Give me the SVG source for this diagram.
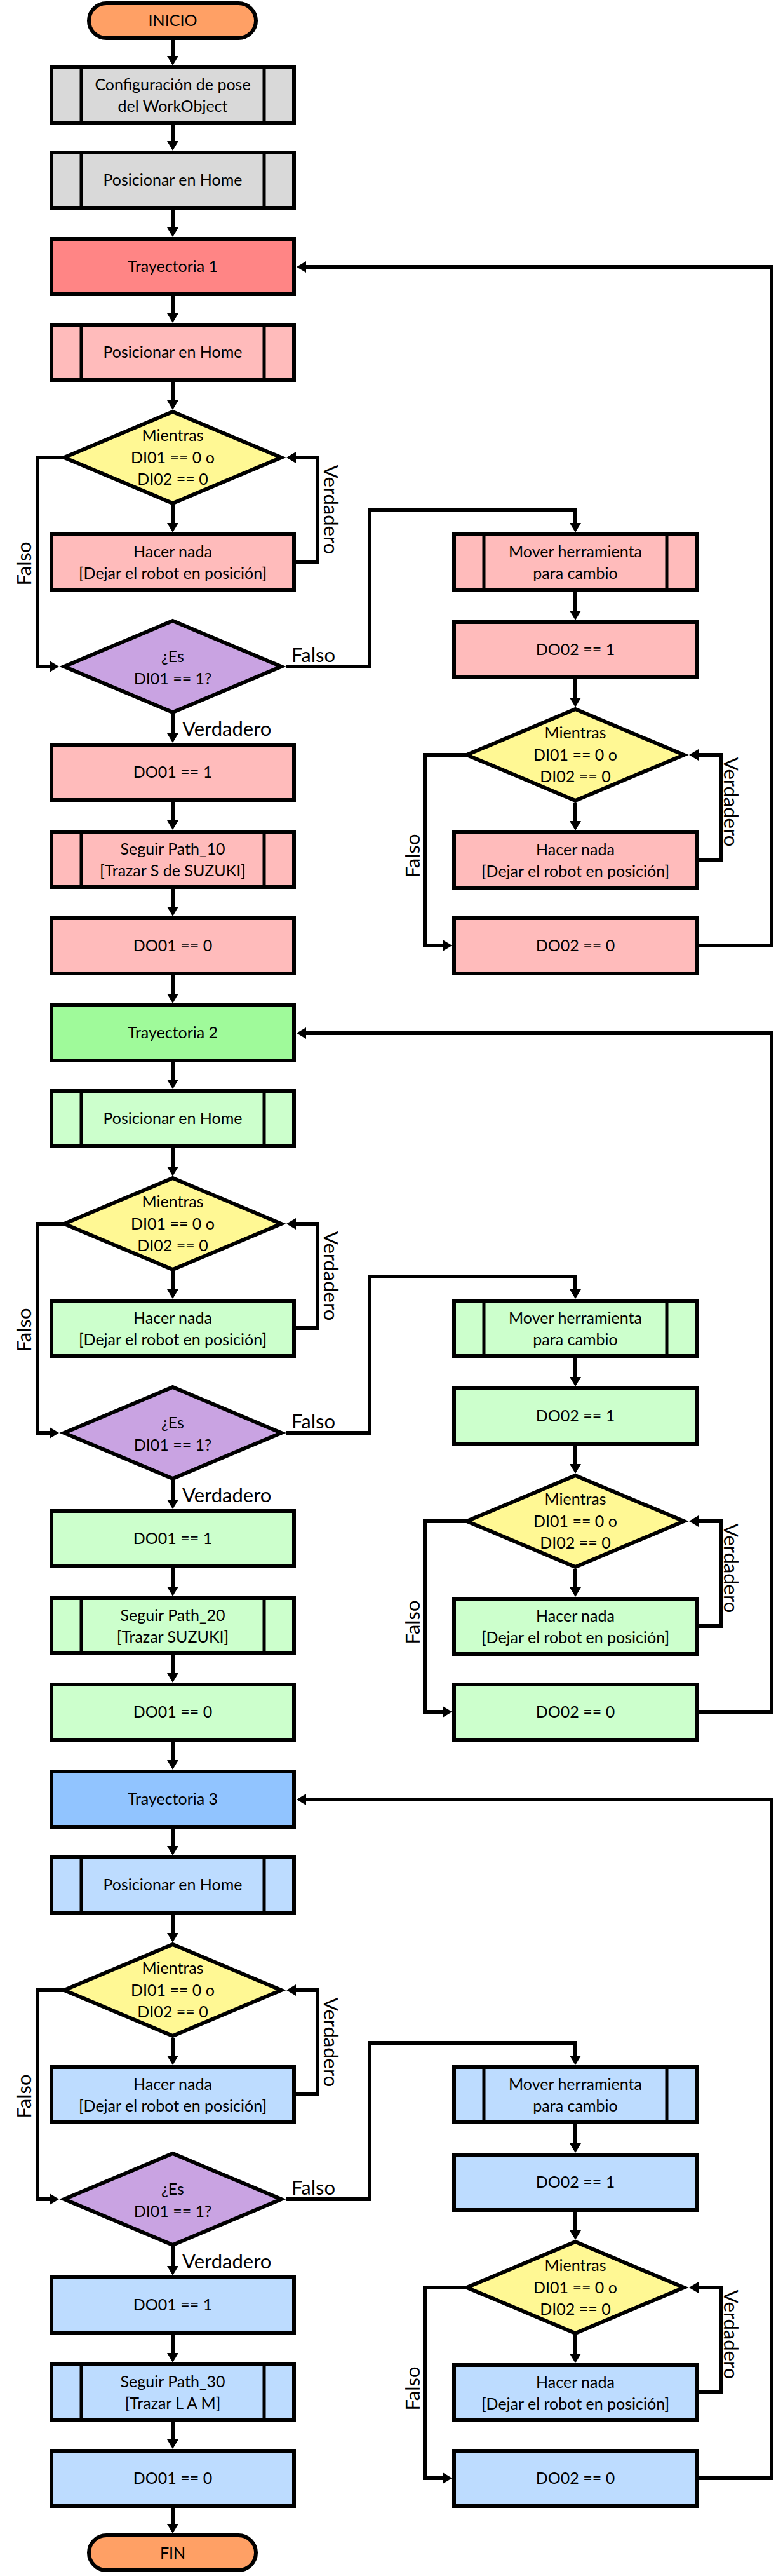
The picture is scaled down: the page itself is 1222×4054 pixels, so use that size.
<svg xmlns="http://www.w3.org/2000/svg" width="1222" height="4054" viewBox="0 0 1222 4054">
<style>
.n{stroke:#000;stroke-width:6}
.b{stroke:#000;stroke-width:5}
.t{font-family:Lato,"Noto Sans",sans-serif;font-size:25px;text-anchor:middle;fill:#000}
.l{font-family:Lato,"Noto Sans",sans-serif;font-size:31px;fill:#000}
.lm{text-anchor:middle}
.c{fill:none;stroke:#000;stroke-width:6;stroke-linejoin:miter;marker-end:url(#ah)}
.term{fill:#FFA065}
.gray{fill:#D9D9D9}
.yel{fill:#FFF894}
.pur{fill:#C9A3E2}
.tr1{fill:#FF8585}.s1{fill:#FFBBBB}
.tr2{fill:#9FFA9A}.s2{fill:#CCFFCC}
.tr3{fill:#91C4FF}.s3{fill:#BDDCFF}
</style>
<defs>
<marker id="ah" markerUnits="userSpaceOnUse" markerWidth="16" markerHeight="18" refX="0" refY="9" orient="auto" overflow="visible"><path d="M0,0 L15,9 L0,18 z" fill="#000"/></marker>
</defs>
<rect width="1222" height="4054" fill="#fff"/>

<g id="connectors">
<path class="c" d="M272,63 V88"/>
<path class="c" d="M272,196 V222"/>
<path class="c" d="M272,330 V358"/>
<path class="c" d="M272,3947 V3972"/>
<g id="conn-s1">
<path class="c" d="M272,466 V493"/>
<path class="c" d="M272,601 V630"/>
<path class="c" d="M272,795 V823"/>
<path class="c" d="M101,720 H59 V1049 H78"/>
<path class="c" d="M466,884 H500 V720 H466"/>
<path class="c" d="M272,1123 V1154"/>
<path class="c" d="M451,1049 H582 V803 H906 V823"/>
<path class="c" d="M272,1262 V1291"/>
<path class="c" d="M272,1399 V1427"/>
<path class="c" d="M272,1535 V1564"/>
<path class="c" d="M906,931 V961"/>
<path class="c" d="M906,1069 V1098"/>
<path class="c" d="M906,1263 V1292"/>
<path class="c" d="M735,1188 H669 V1488 H697"/>
<path class="c" d="M1100,1353 H1136 V1188 H1100"/>
<path class="c" d="M1100,1488 H1215 V420 H482"/>
</g>
<g id="conn-s2" transform="translate(0,1206)">
<path class="c" d="M272,466 V493"/>
<path class="c" d="M272,601 V630"/>
<path class="c" d="M272,795 V823"/>
<path class="c" d="M101,720 H59 V1049 H78"/>
<path class="c" d="M466,884 H500 V720 H466"/>
<path class="c" d="M272,1123 V1154"/>
<path class="c" d="M451,1049 H582 V803 H906 V823"/>
<path class="c" d="M272,1262 V1291"/>
<path class="c" d="M272,1399 V1427"/>
<path class="c" d="M272,1535 V1564"/>
<path class="c" d="M906,931 V961"/>
<path class="c" d="M906,1069 V1098"/>
<path class="c" d="M906,1263 V1292"/>
<path class="c" d="M735,1188 H669 V1488 H697"/>
<path class="c" d="M1100,1353 H1136 V1188 H1100"/>
<path class="c" d="M1100,1488 H1215 V420 H482"/>
</g>
<g id="conn-s3" transform="translate(0,2412)">
<path class="c" d="M272,466 V493"/>
<path class="c" d="M272,601 V630"/>
<path class="c" d="M272,795 V823"/>
<path class="c" d="M101,720 H59 V1049 H78"/>
<path class="c" d="M466,884 H500 V720 H466"/>
<path class="c" d="M272,1123 V1154"/>
<path class="c" d="M451,1049 H582 V803 H906 V823"/>
<path class="c" d="M272,1262 V1291"/>
<path class="c" d="M272,1399 V1427"/>
<path class="c" d="M906,931 V961"/>
<path class="c" d="M906,1069 V1098"/>
<path class="c" d="M906,1263 V1292"/>
<path class="c" d="M735,1188 H669 V1488 H697"/>
<path class="c" d="M1100,1353 H1136 V1188 H1100"/>
<path class="c" d="M1100,1488 H1215 V420 H482"/>
</g>
</g>

<g id="labels">
<g id="lab-s1">
<text class="l" x="287" y="1158">Verdadero</text>
<text class="l" x="459" y="1042">Falso</text>
<text class="l lm" transform="translate(49,887) rotate(-90)">Falso</text>
<text class="l lm" transform="translate(510,802) rotate(90)">Verdadero</text>
<text class="l lm" transform="translate(661,1347) rotate(-90)">Falso</text>
<text class="l lm" transform="translate(1140,1262) rotate(90)">Verdadero</text>
</g>
<g id="lab-s2" transform="translate(0,1206)">
<text class="l" x="287" y="1158">Verdadero</text>
<text class="l" x="459" y="1042">Falso</text>
<text class="l lm" transform="translate(49,887) rotate(-90)">Falso</text>
<text class="l lm" transform="translate(510,802) rotate(90)">Verdadero</text>
<text class="l lm" transform="translate(661,1347) rotate(-90)">Falso</text>
<text class="l lm" transform="translate(1140,1262) rotate(90)">Verdadero</text>
</g>
<g id="lab-s3" transform="translate(0,2412)">
<text class="l" x="287" y="1158">Verdadero</text>
<text class="l" x="459" y="1042">Falso</text>
<text class="l lm" transform="translate(49,887) rotate(-90)">Falso</text>
<text class="l lm" transform="translate(510,802) rotate(90)">Verdadero</text>
<text class="l lm" transform="translate(661,1347) rotate(-90)">Falso</text>
<text class="l lm" transform="translate(1140,1262) rotate(90)">Verdadero</text>
</g>
</g>

<g id="inicio"><rect class="n term" x="140" y="5" width="263" height="55" rx="27.5"/><text class="t" x="272" y="41">INICIO</text></g>
<g id="config"><rect class="n gray" x="81" y="106" width="382" height="87"/><line class="b" x1="128" y1="106" x2="128" y2="193"/><line class="b" x1="416" y1="106" x2="416" y2="193"/><text class="t" x="272" y="142">Configuración de pose</text><text class="t" x="272" y="176">del WorkObject</text></g>
<g id="home0"><rect class="n gray" x="81" y="240" width="382" height="87"/><line class="b" x1="128" y1="240" x2="128" y2="327"/><line class="b" x1="416" y1="240" x2="416" y2="327"/><text class="t" x="272" y="292">Posicionar en Home</text></g>

<g id="seccion1">
<g id="tray1"><rect class="n tr1" x="81" y="376" width="382" height="87"/><text class="t" x="272" y="428">Trayectoria 1</text></g>
<g id="home1"><rect class="n s1" x="81" y="511" width="382" height="87"/><line class="b" x1="128" y1="511" x2="128" y2="598"/><line class="b" x1="416" y1="511" x2="416" y2="598"/><text class="t" x="272" y="563">Posicionar en Home</text></g>
<g id="mientras1"><polygon class="n yel" points="272,648 443,720 272,792 101,720"/><text class="t" x="272" y="694">Mientras</text><text class="t" x="272" y="729">DI01 == 0 o</text><text class="t" x="272" y="763">DI02 == 0</text></g>
<g id="nada1"><rect class="n s1" x="81" y="841" width="382" height="87"/><text class="t" x="272" y="877">Hacer nada</text><text class="t" x="272" y="911">[Dejar el robot en posición]</text></g>
<g id="es1"><polygon class="n pur" points="272,977 443,1049 272,1121 101,1049"/><text class="t" x="272" y="1042">¿Es</text><text class="t" x="272" y="1077">DI01 == 1?</text></g>
<g id="do1a"><rect class="n s1" x="81" y="1172" width="382" height="87"/><text class="t" x="272" y="1224">DO01 == 1</text></g>
<g id="path1"><rect class="n s1" x="81" y="1309" width="382" height="87"/><line class="b" x1="128" y1="1309" x2="128" y2="1396"/><line class="b" x1="416" y1="1309" x2="416" y2="1396"/><text class="t" x="272" y="1345">Seguir Path_10</text><text class="t" x="272" y="1379">[Trazar S de SUZUKI]</text></g>
<g id="do1b"><rect class="n s1" x="81" y="1445" width="382" height="87"/><text class="t" x="272" y="1497">DO01 == 0</text></g>
<g id="mover1"><rect class="n s1" x="715" y="841" width="382" height="87"/><line class="b" x1="762" y1="841" x2="762" y2="928"/><line class="b" x1="1050" y1="841" x2="1050" y2="928"/><text class="t" x="906" y="877">Mover herramienta</text><text class="t" x="906" y="911">para cambio</text></g>
<g id="do2a1"><rect class="n s1" x="715" y="979" width="382" height="87"/><text class="t" x="906" y="1031">DO02 == 1</text></g>
<g id="mientras1b"><polygon class="n yel" points="906,1116 1077,1188 906,1260 735,1188"/><text class="t" x="906" y="1162">Mientras</text><text class="t" x="906" y="1197">DI01 == 0 o</text><text class="t" x="906" y="1231">DI02 == 0</text></g>
<g id="nada1b"><rect class="n s1" x="715" y="1310" width="382" height="87"/><text class="t" x="906" y="1346">Hacer nada</text><text class="t" x="906" y="1380">[Dejar el robot en posición]</text></g>
<g id="do2b1"><rect class="n s1" x="715" y="1445" width="382" height="87"/><text class="t" x="906" y="1497">DO02 == 0</text></g>
</g>

<g id="seccion2" transform="translate(0,1206)">
<g id="tray2"><rect class="n tr2" x="81" y="376" width="382" height="87"/><text class="t" x="272" y="428">Trayectoria 2</text></g>
<g id="home2"><rect class="n s2" x="81" y="511" width="382" height="87"/><line class="b" x1="128" y1="511" x2="128" y2="598"/><line class="b" x1="416" y1="511" x2="416" y2="598"/><text class="t" x="272" y="563">Posicionar en Home</text></g>
<g id="mientras2"><polygon class="n yel" points="272,648 443,720 272,792 101,720"/><text class="t" x="272" y="694">Mientras</text><text class="t" x="272" y="729">DI01 == 0 o</text><text class="t" x="272" y="763">DI02 == 0</text></g>
<g id="nada2"><rect class="n s2" x="81" y="841" width="382" height="87"/><text class="t" x="272" y="877">Hacer nada</text><text class="t" x="272" y="911">[Dejar el robot en posición]</text></g>
<g id="es2"><polygon class="n pur" points="272,977 443,1049 272,1121 101,1049"/><text class="t" x="272" y="1042">¿Es</text><text class="t" x="272" y="1077">DI01 == 1?</text></g>
<g id="do2a"><rect class="n s2" x="81" y="1172" width="382" height="87"/><text class="t" x="272" y="1224">DO01 == 1</text></g>
<g id="path2"><rect class="n s2" x="81" y="1309" width="382" height="87"/><line class="b" x1="128" y1="1309" x2="128" y2="1396"/><line class="b" x1="416" y1="1309" x2="416" y2="1396"/><text class="t" x="272" y="1345">Seguir Path_20</text><text class="t" x="272" y="1379">[Trazar SUZUKI]</text></g>
<g id="do2b"><rect class="n s2" x="81" y="1445" width="382" height="87"/><text class="t" x="272" y="1497">DO01 == 0</text></g>
<g id="mover2"><rect class="n s2" x="715" y="841" width="382" height="87"/><line class="b" x1="762" y1="841" x2="762" y2="928"/><line class="b" x1="1050" y1="841" x2="1050" y2="928"/><text class="t" x="906" y="877">Mover herramienta</text><text class="t" x="906" y="911">para cambio</text></g>
<g id="do2a2"><rect class="n s2" x="715" y="979" width="382" height="87"/><text class="t" x="906" y="1031">DO02 == 1</text></g>
<g id="mientras2b"><polygon class="n yel" points="906,1116 1077,1188 906,1260 735,1188"/><text class="t" x="906" y="1162">Mientras</text><text class="t" x="906" y="1197">DI01 == 0 o</text><text class="t" x="906" y="1231">DI02 == 0</text></g>
<g id="nada2b"><rect class="n s2" x="715" y="1310" width="382" height="87"/><text class="t" x="906" y="1346">Hacer nada</text><text class="t" x="906" y="1380">[Dejar el robot en posición]</text></g>
<g id="do2b2"><rect class="n s2" x="715" y="1445" width="382" height="87"/><text class="t" x="906" y="1497">DO02 == 0</text></g>
</g>

<g id="seccion3" transform="translate(0,2412)">
<g id="tray3"><rect class="n tr3" x="81" y="376" width="382" height="87"/><text class="t" x="272" y="428">Trayectoria 3</text></g>
<g id="home3"><rect class="n s3" x="81" y="511" width="382" height="87"/><line class="b" x1="128" y1="511" x2="128" y2="598"/><line class="b" x1="416" y1="511" x2="416" y2="598"/><text class="t" x="272" y="563">Posicionar en Home</text></g>
<g id="mientras3"><polygon class="n yel" points="272,648 443,720 272,792 101,720"/><text class="t" x="272" y="694">Mientras</text><text class="t" x="272" y="729">DI01 == 0 o</text><text class="t" x="272" y="763">DI02 == 0</text></g>
<g id="nada3"><rect class="n s3" x="81" y="841" width="382" height="87"/><text class="t" x="272" y="877">Hacer nada</text><text class="t" x="272" y="911">[Dejar el robot en posición]</text></g>
<g id="es3"><polygon class="n pur" points="272,977 443,1049 272,1121 101,1049"/><text class="t" x="272" y="1042">¿Es</text><text class="t" x="272" y="1077">DI01 == 1?</text></g>
<g id="do3a"><rect class="n s3" x="81" y="1172" width="382" height="87"/><text class="t" x="272" y="1224">DO01 == 1</text></g>
<g id="path3"><rect class="n s3" x="81" y="1309" width="382" height="87"/><line class="b" x1="128" y1="1309" x2="128" y2="1396"/><line class="b" x1="416" y1="1309" x2="416" y2="1396"/><text class="t" x="272" y="1345">Seguir Path_30</text><text class="t" x="272" y="1379">[Trazar L A M]</text></g>
<g id="do3b"><rect class="n s3" x="81" y="1445" width="382" height="87"/><text class="t" x="272" y="1497">DO01 == 0</text></g>
<g id="mover3"><rect class="n s3" x="715" y="841" width="382" height="87"/><line class="b" x1="762" y1="841" x2="762" y2="928"/><line class="b" x1="1050" y1="841" x2="1050" y2="928"/><text class="t" x="906" y="877">Mover herramienta</text><text class="t" x="906" y="911">para cambio</text></g>
<g id="do3a2"><rect class="n s3" x="715" y="979" width="382" height="87"/><text class="t" x="906" y="1031">DO02 == 1</text></g>
<g id="mientras3b"><polygon class="n yel" points="906,1116 1077,1188 906,1260 735,1188"/><text class="t" x="906" y="1162">Mientras</text><text class="t" x="906" y="1197">DI01 == 0 o</text><text class="t" x="906" y="1231">DI02 == 0</text></g>
<g id="nada3b"><rect class="n s3" x="715" y="1310" width="382" height="87"/><text class="t" x="906" y="1346">Hacer nada</text><text class="t" x="906" y="1380">[Dejar el robot en posición]</text></g>
<g id="do3b2"><rect class="n s3" x="715" y="1445" width="382" height="87"/><text class="t" x="906" y="1497">DO02 == 0</text></g>
</g>

<g id="fin"><rect class="n term" x="140" y="3990" width="263" height="55" rx="27.5"/><text class="t" x="272" y="4027">FIN</text></g>
</svg>
